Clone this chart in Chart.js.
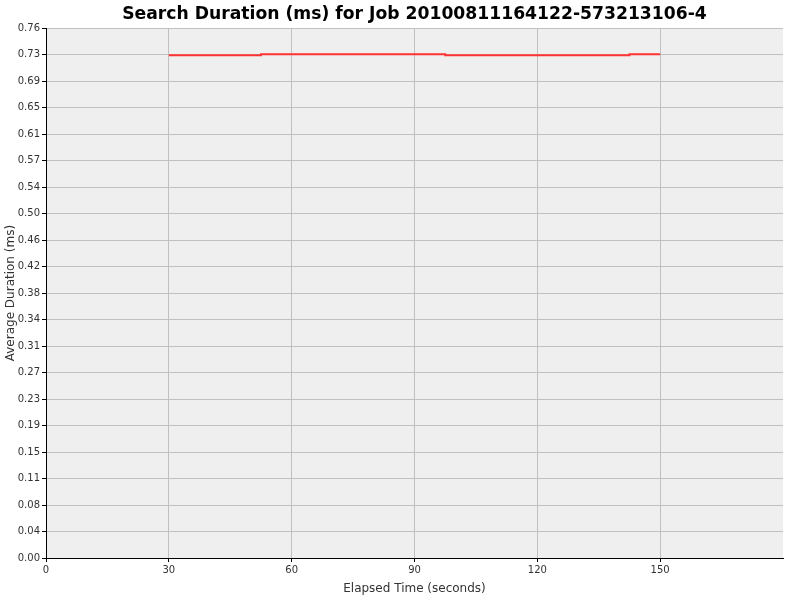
<!DOCTYPE html>
<html>
<head>
<meta charset="utf-8">
<script src="https://cdn.jsdelivr.net/npm/chart.js@4"></script>
<style>
html,body{margin:0;padding:0;background:#fff;}
canvas{display:block;}
</style>
</head>
<body>
<canvas id="c" width="800" height="600"></canvas>
<script>
const chartTitle = 'Search Duration (ms) for Job 20100811164122-573213106-4';
const xAxisTitle = 'Elapsed Time (seconds)';
const yAxisTitle = 'Average Duration (ms)';
const elapsedSeconds = [30, 52.5, 97.5, 142.5, 150];
const avgDurationMs = [0.7254, 0.7268, 0.7254, 0.7268, 0.7268];
const xTickValues = [0, 30, 60, 90, 120, 150];
const xMax = 180;
const yTickLabels = ['0.00','0.04','0.08','0.11','0.15','0.19','0.23','0.27','0.31','0.34','0.38','0.42','0.46','0.50','0.54','0.57','0.61','0.65','0.69','0.73','0.76'];
const yTickStep = 0.03823;

const plotBg = {
  id: 'plotBg',
  beforeDraw(chart) {
    const {ctx, chartArea: a} = chart;
    ctx.save();
    ctx.fillStyle = '#efefef';
    ctx.fillRect(a.left, a.top, a.right - a.left, a.bottom - a.top);
    ctx.restore();
  }
};

new Chart(document.getElementById('c'), {
  type: 'line',
  data: {
    datasets: [{
      data: elapsedSeconds.map((x, i) => ({x: x, y: avgDurationMs[i]})),
      borderColor: '#ff3333',
      borderWidth: 2,
      pointRadius: 0,
      stepped: true,
      fill: false
    }]
  },
  options: {
    responsive: false,
    animation: false,
    devicePixelRatio: 1,
    layout: {padding: {left: 0, right: 17, top: 0, bottom: 0}},
    plugins: {
      legend: {display: false},
      tooltip: {enabled: false},
      title: {
        display: true,
        fullSize: false,
        text: chartTitle,
        color: '#000',
        font: {family: 'DejaVu Sans', size: 17.2, weight: 'bold'},
        padding: {top: 4, bottom: 3.5}
      }
    },
    scales: {
      x: {
        type: 'linear',
        min: 0,
        max: xMax,
        afterBuildTicks: s => { s.ticks = xTickValues.map(v => ({value: v})); },
        afterFit: s => { s.height = 42; },
        ticks: {
          color: '#333',
          font: {family: 'DejaVu Sans', size: 10},
          padding: 2,
          maxRotation: 0,
          callback: v => String(v)
        },
        grid: {color: '#c0c0c0', tickColor: '#000', tickLength: 4, lineWidth: 1},
        border: {color: '#000', width: 1},
        title: {
          display: true,
          text: xAxisTitle,
          color: '#333',
          font: {family: 'DejaVu Sans', size: 12},
          padding: {top: 0, bottom: 4}
        }
      },
      y: {
        type: 'linear',
        min: 0,
        max: yTickStep * (yTickLabels.length - 1),
        afterBuildTicks: s => { s.ticks = yTickLabels.map((_, i) => ({value: i * yTickStep})); },
        afterFit: s => { s.width = 46; },
        ticks: {
          color: '#333',
          font: {family: 'DejaVu Sans', size: 10},
          padding: 2,
          callback: (v, i) => yTickLabels[i]
        },
        grid: {color: '#c0c0c0', tickColor: '#000', tickLength: 4, lineWidth: 1},
        border: {color: '#000', width: 1},
        title: {
          display: true,
          text: yAxisTitle,
          color: '#333',
          font: {family: 'DejaVu Sans', size: 12},
          padding: {top: 4, bottom: 0}
        }
      }
    }
  },
  plugins: [plotBg]
});
</script>
</body>
</html>
